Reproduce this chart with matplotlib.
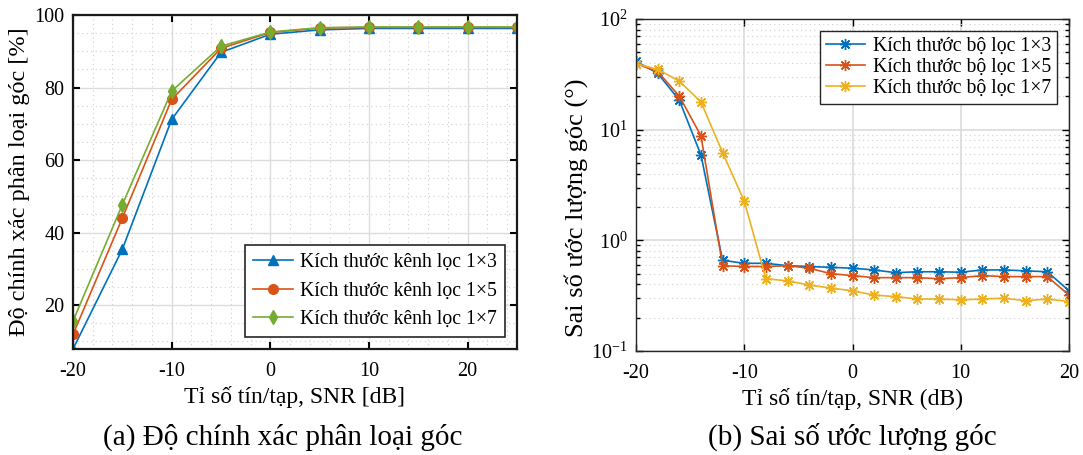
import matplotlib
matplotlib.use("Agg")
import matplotlib.pyplot as plt
from matplotlib.ticker import MultipleLocator, LogLocator, NullFormatter

plt.rcParams['font.family'] = ['Liberation Serif', 'DejaVu Serif']
plt.rcParams['mathtext.fontset'] = 'stix'
plt.rcParams['axes.unicode_minus'] = False

# (a) accuracy vs SNR
snr_a = [-20, -15, -10, -5, 0, 5, 10, 15, 20, 25]
acc_1x3 = [7.9, 35.4, 71.2, 89.7, 94.7, 95.9, 96.3, 96.3, 96.3, 96.3]
acc_1x5 = [11.9, 44.0, 76.7, 90.8, 95.2, 96.4, 96.6, 96.6, 96.6, 96.6]
acc_1x7 = [15.6, 47.7, 79.0, 91.4, 95.3, 96.5, 96.7, 96.7, 96.7, 96.7]
labels_a = ['Kích thước kênh lọc 1×3', 'Kích thước kênh lọc 1×5', 'Kích thước kênh lọc 1×7']

# (b) angle error vs SNR
snr_b = [-20, -18, -16, -14, -12, -10, -8, -6, -4, -2, 0, 2, 4, 6, 8, 10, 12, 14, 16, 18, 20]
err_1x3 = [41.5, 32.3, 18.5, 5.9, 0.66, 0.62, 0.62, 0.59, 0.58, 0.57, 0.56, 0.54, 0.51,
           0.52, 0.52, 0.515, 0.54, 0.54, 0.53, 0.52, 0.35]
err_1x5 = [39.5, 33.5, 20.1, 8.8, 0.59, 0.58, 0.58, 0.59, 0.56, 0.50, 0.48, 0.46, 0.46,
           0.46, 0.45, 0.46, 0.48, 0.47, 0.47, 0.47, 0.32]
err_1x7 = [39.5, 35.0, 27.5, 17.8, 6.2, 2.26, 0.45, 0.43, 0.395, 0.37, 0.35, 0.32, 0.31,
           0.295, 0.295, 0.29, 0.295, 0.30, 0.285, 0.295, 0.28]
labels_b = ['Kích thước bộ lọc 1×3', 'Kích thước bộ lọc 1×5', 'Kích thước bộ lọc 1×7']

blue, orange, yellow, green = '#0072BD', '#D95319', '#EDB120', '#77AC30'

fig = plt.figure(figsize=(10.83, 4.55), dpi=100)

# ---- left panel
ax1 = fig.add_axes([73 / 1083, 106 / 455, 444 / 1083, 334 / 455])
ax1.plot(snr_a, acc_1x3, '-^', color=blue, ms=7, lw=1.2, label=labels_a[0])
ax1.plot(snr_a, acc_1x5, '-o', color=orange, ms=7, lw=1.2, label=labels_a[1])
ax1.plot(snr_a, acc_1x7, '-d', color=green, ms=7, lw=1.2, label=labels_a[2])
ax1.set_xlim(-20, 25)
ax1.set_ylim(7.9, 100)
ax1.set_xticks([-20, -10, 0, 10, 20])
ax1.set_yticks([20, 40, 60, 80, 100])
ax1.xaxis.set_minor_locator(MultipleLocator(2))
ax1.yaxis.set_minor_locator(MultipleLocator(5))
ax1.grid(True, which='major', color='#dcdcdc', lw=1)
ax1.grid(True, which='minor', color='#d0d0d0', lw=0.8, ls=(0, (1, 3)))
ax1.set_axisbelow(True)
ax1.tick_params(which='both', direction='in', top=True, right=True, labelsize=14.5, width=1.5)
ax1.tick_params(which='major', length=5)
ax1.tick_params(which='minor', length=0)
ax1.tick_params(axis='x', pad=9)
ax1.tick_params(axis='y', pad=6)
for s in ax1.spines.values():
    s.set_linewidth(1.6)
    s.set_color('#1a1a1a')
ax1.set_xlabel('Tỉ số tín/tạp, SNR [dB]', fontsize=17, labelpad=4)
ax1.set_ylabel('Độ chính xác phân loại góc [%]', fontsize=17.5, labelpad=3)
leg1 = ax1.legend(loc='lower right', fontsize=14.2, fancybox=False, framealpha=1,
                  edgecolor='#262626', handlelength=2.0, borderaxespad=0.6,
                  labelspacing=0.5, handletextpad=0.4, borderpad=0.4)
leg1.get_frame().set_linewidth(1.2)

# ---- right panel
ax2 = fig.add_axes([636 / 1083, 104 / 455, 433 / 1083, 332 / 455])
ax2.semilogy(snr_b, err_1x3, '-', marker=(8, 2, 0), color=blue, ms=8, mew=1, lw=1.2, label=labels_b[0])
ax2.semilogy(snr_b, err_1x5, '-', marker=(8, 2, 0), color=orange, ms=8, mew=1, lw=1.2, label=labels_b[1])
ax2.semilogy(snr_b, err_1x7, '-', marker=(8, 2, 0), color=yellow, ms=8, mew=1, lw=1.2, label=labels_b[2])
ax2.set_xlim(-20, 20)
ax2.set_ylim(0.1, 100)
ax2.set_xticks([-20, -10, 0, 10, 20])
ax2.yaxis.set_major_locator(LogLocator(base=10, numticks=10))
ax2.yaxis.set_minor_locator(LogLocator(base=10, subs=range(2, 10), numticks=10))
ax2.yaxis.set_minor_formatter(NullFormatter())
ax2.grid(True, which='major', axis='both', color='#dcdcdc', lw=1.2)
ax2.grid(True, which='minor', axis='y', color='#d0d0d0', lw=0.8, ls=(0, (1, 3)))
ax2.set_axisbelow(True)
ax2.tick_params(which='both', direction='in', top=True, right=True, labelsize=14.5, width=1)
ax2.tick_params(which='major', length=5)
ax2.tick_params(which='minor', length=3)
ax2.tick_params(axis='x', pad=9)
ax2.tick_params(axis='y', pad=6)
for s in ax2.spines.values():
    s.set_linewidth(1)
    s.set_color('#262626')
ax2.set_xlabel('Tỉ số tín/tạp, SNR (dB)', fontsize=17, labelpad=4)
ax2.set_ylabel('Sai số ước lượng góc (°)', fontsize=19, labelpad=3)
ax2.yaxis.set_label_coords(-0.112, 0.43)
leg2 = ax2.legend(loc='upper right', fontsize=14.2, fancybox=False, framealpha=1,
                  edgecolor='#262626', handlelength=2.0, borderaxespad=0.6,
                  labelspacing=0.1, handletextpad=0.4, borderpad=0.3)
leg2.get_frame().set_linewidth(1)

# captions
fig.text(283 / 1083, 1 - 437 / 455, '(a) Độ chính xác phân loại góc', fontsize=21,
         ha='center', va='center')
fig.text(852 / 1083, 1 - 437 / 455, '(b) Sai số ước lượng góc', fontsize=21,
         ha='center', va='center')

fig.savefig('out.png', dpi=100)
